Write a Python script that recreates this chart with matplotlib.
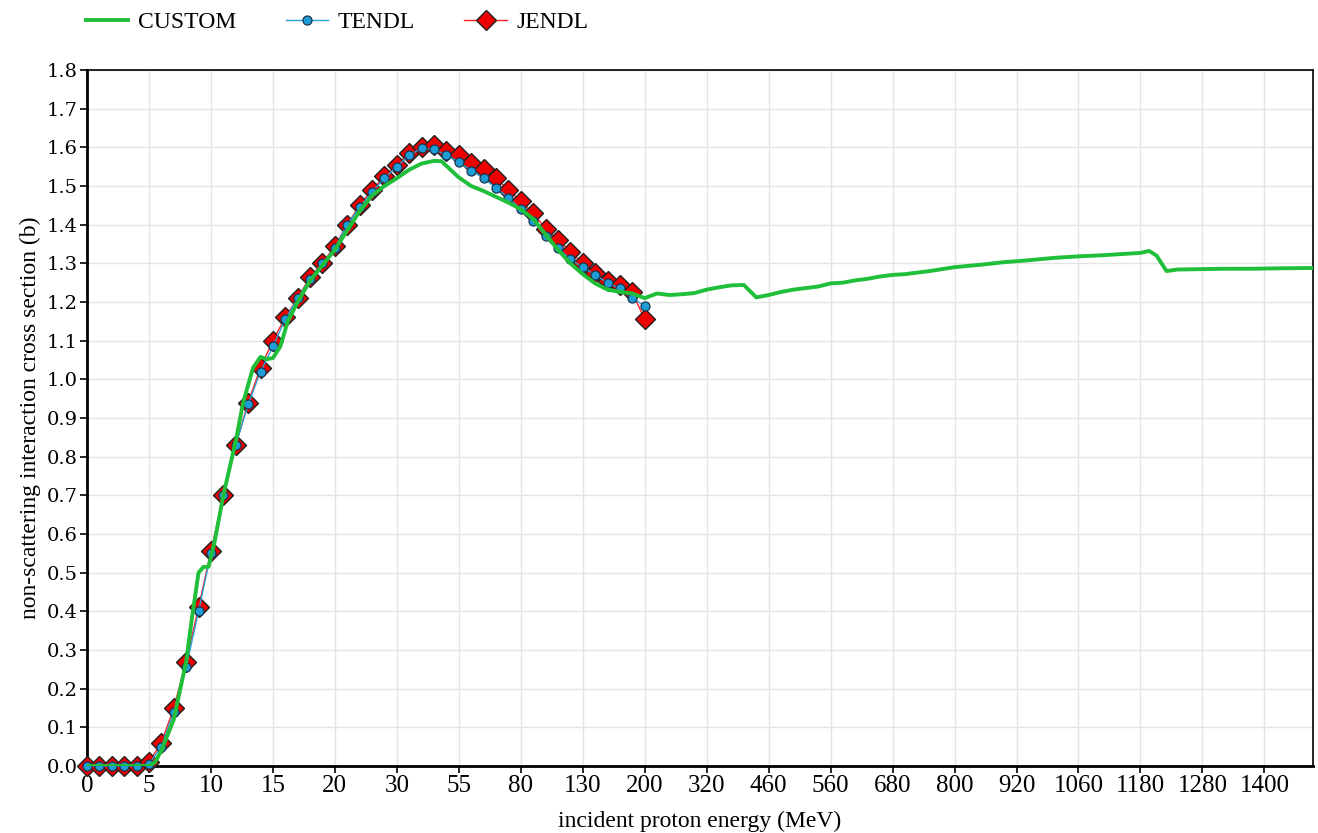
import matplotlib
matplotlib.use("Agg")
import matplotlib.pyplot as plt

# tick labels on the (evenly spaced) energy axis, one every 5 points
energy_labels = ["0", "5", "10", "15", "20", "30", "55", "80", "130", "200",
                 "320", "460", "560", "680", "800", "920", "1060", "1180",
                 "1280", "1400"]

# evaluated data, one value per energy point (point index 0..45)
tendl = [0.0, 0.0, 0.0, 0.0, 0.0, 0.005, 0.05, 0.14, 0.255, 0.40,
         0.55, 0.70, 0.83, 0.935, 1.02, 1.085, 1.155, 1.21, 1.26, 1.30,
         1.34, 1.40, 1.445, 1.485, 1.52, 1.55, 1.58, 1.597, 1.595, 1.58,
         1.562, 1.54, 1.52, 1.495, 1.47, 1.44, 1.41, 1.37, 1.34, 1.31,
         1.29, 1.27, 1.25, 1.235, 1.21, 1.19]
jendl = [0.0, 0.0, 0.0, 0.0, 0.0, 0.01, 0.06, 0.15, 0.27, 0.41,
         0.555, 0.70, 0.83, 0.94, 1.03, 1.10, 1.16, 1.21, 1.265, 1.30,
         1.345, 1.40, 1.45, 1.49, 1.525, 1.555, 1.585, 1.60, 1.605, 1.59,
         1.58, 1.56, 1.545, 1.52, 1.49, 1.46, 1.43, 1.39, 1.36, 1.33,
         1.30, 1.275, 1.255, 1.245, 1.225, 1.155]

# custom model, sampled finer (point index, value)
custom_pos = [0, 5, 5.5, 6, 7, 8, 8.5, 9, 9.4, 9.8, 10.3, 11, 12, 12.6, 13.4,
              14, 14.5, 15, 15.6, 16.2, 17, 18, 19, 20, 21, 22, 23, 24, 25,
              26, 27, 28, 28.6, 29, 30, 31, 32, 33, 34, 35, 36, 37, 38, 39,
              40, 41, 42, 43, 44, 45, 46, 47, 48, 49, 50, 51, 52, 53, 54, 55,
              56, 57, 58, 59, 60, 61, 62, 63, 64, 65, 66, 67, 68, 69, 70, 72,
              74, 76, 78, 80, 82, 84, 85, 85.7, 86.3, 87.1, 88, 90, 92, 94,
              96, 99]
custom = [0.0, 0.0, 0.01, 0.04, 0.12, 0.27, 0.39, 0.50, 0.515, 0.515, 0.58,
          0.70, 0.84, 0.94, 1.03, 1.058, 1.052, 1.055, 1.085, 1.15, 1.20,
          1.255, 1.295, 1.335, 1.385, 1.435, 1.475, 1.50, 1.52, 1.542, 1.558,
          1.565, 1.564, 1.552, 1.522, 1.5, 1.487, 1.472, 1.457, 1.44, 1.415,
          1.375, 1.335, 1.30, 1.272, 1.248, 1.232, 1.226, 1.222, 1.21, 1.222,
          1.218, 1.22, 1.223, 1.232, 1.238, 1.243, 1.244, 1.212, 1.218, 1.226,
          1.232, 1.236, 1.24, 1.248, 1.25, 1.256, 1.26, 1.266, 1.27, 1.272,
          1.276, 1.28, 1.285, 1.29, 1.296, 1.303, 1.308, 1.314, 1.318, 1.321,
          1.325, 1.327, 1.332, 1.32, 1.28, 1.284, 1.285, 1.286, 1.286, 1.287,
          1.288]

serif = ["Liberation Serif", "DejaVu Serif"]

fig = plt.figure(figsize=(13.18, 8.33), dpi=100)
ax = fig.add_axes([0.066, 0.0804, 0.93, 0.8356])

pts = list(range(len(jendl)))
ax.plot(pts, jendl, color="#ff2020", linewidth=1, marker="D", markersize=10,
        markerfacecolor="#ee0000", markeredgecolor="#222222",
        markeredgewidth=1, label="JENDL", zorder=3, clip_on=False)
ax.plot(pts, tendl, color="#2a9fd8", linewidth=1, marker="o", markersize=6.5,
        markerfacecolor="#1e9cd6", markeredgecolor="#1a3550",
        markeredgewidth=0.9, label="TENDL", zorder=4, clip_on=False)
ax.plot(custom_pos, custom, color="#1fbf3a", linewidth=2.8, label="CUSTOM",
        zorder=5, solid_joinstyle="round")

ax.set_xlim(0, 98.9)
ax.set_ylim(0, 1.8)
ax.set_xticks(range(0, 5 * len(energy_labels), 5))
ax.set_xticklabels(energy_labels, family=serif, fontsize=18)
yt = [i / 10 for i in range(19)]
ax.set_yticks(yt)
ax.set_yticklabels([f"{v:.1f}" for v in yt], family="DejaVu Serif",
                   fontsize=14)
ax.grid(True, color="#e4e4e4", linewidth=1)
ax.set_axisbelow(True)
ax.tick_params(axis="both", direction="out", length=5, width=1.2,
               color="black", pad=1.5)

for side in ["left", "bottom"]:
    ax.spines[side].set_linewidth(2)
for side in ["top", "right"]:
    ax.spines[side].set_linewidth(1.2)

ax.set_xlabel("incident proton energy (MeV)", family=serif, fontsize=17,
              labelpad=10)
ax.set_ylabel("non-scattering interaction cross section (b)", family=serif,
              fontsize=17, labelpad=4)

h, l = ax.get_legend_handles_labels()
fig.legend(h[::-1], l[::-1], loc="upper left", bbox_to_anchor=(0.049, 1.012),
           ncol=3, frameon=False, prop={"family": serif, "size": 17},
           handlelength=1.8, handletextpad=0.4, columnspacing=2.1)

fig.savefig("out.png", dpi=100)
